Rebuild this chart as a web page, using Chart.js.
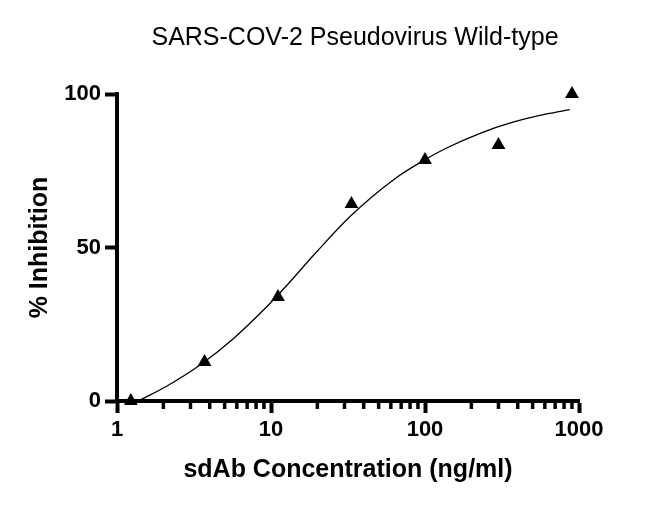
<!DOCTYPE html>
<html>
<head>
<meta charset="utf-8">
<script src="https://cdn.jsdelivr.net/npm/chart.js@4"></script>
<style>
  html, body { margin: 0; padding: 0; background: #fff; }
  #wrap { width: 650px; height: 507px; }
</style>
</head>
<body>
<div id="wrap"><canvas id="c" width="650" height="507"></canvas></div>
<script>
// ---- data ----
const concentration = [1.23, 3.7, 11.1, 33.3, 100, 300, 900];
const inhibition    = [0, 12.7, 33.9, 64.2, 78.5, 83.4, 100];

// fitted curve
const fitConcentration = [1.41, 2.1, 3.46, 5.69, 9.38, 11.97, 19.8, 32.6, 63.8, 100, 138, 228, 372, 617, 871];
const fitInhibition    = [0.3, 4.8, 11.7, 20.3, 30.7, 36.3, 48.6, 60.1, 72.4, 78.6, 82.4, 87.2, 90.8, 93.5, 94.9];

const xTickValues  = [1, 10, 100, 1000];
const xMinorTicks  = [2,3,4,5,6,7,8,9,20,30,40,50,60,70,80,90,200,300,400,500,600,700,800,900];
const yTickValues  = [0, 50, 100];

const titleText = 'SARS-COV-2 Pseudovirus Wild-type';
const xTitle = 'sdAb Concentration (ng/ml)';
const yTitle = '% Inhibition';

const FONT = "'Liberation Sans', Arial, Helvetica, sans-serif";

// title centred over the plot (as in the reference, offset from canvas centre)
const titlePlugin = {
  id: 'plotTitle',
  afterDraw(chart) {
    const ca = chart.chartArea;
    const ctx = chart.ctx;
    ctx.save();
    ctx.fillStyle = '#000';
    ctx.font = '25px ' + FONT;
    ctx.textAlign = 'center';
    ctx.textBaseline = 'middle';
    ctx.fillText(titleText, (ca.left + ca.right) / 2 + 7, ca.top - 56);
    ctx.restore();
  }
};

const minorTickPlugin = {
  id: 'minorTicks',
  afterDraw(chart) {
    const xs = chart.scales.x;
    const ys = chart.scales.y;
    const ctx = chart.ctx;
    const y0 = ys.getPixelForValue(0);
    ctx.save();
    ctx.strokeStyle = '#000';
    ctx.lineWidth = 3.5;
    ctx.lineCap = 'butt';
    xMinorTicks.forEach(v => {
      const px = xs.getPixelForValue(v);
      ctx.beginPath();
      ctx.moveTo(px, y0);
      ctx.lineTo(px, y0 + 8);
      ctx.stroke();
    });
    ctx.restore();
  }
};

const points = concentration.map((c, i) => ({ x: c, y: inhibition[i] }));
const fit = fitConcentration.map((c, i) => ({ x: c, y: fitInhibition[i] }));

new Chart(document.getElementById('c'), {
  type: 'scatter',
  data: {
    datasets: [
      {
        label: 'fit',
        data: fit,
        showLine: true,
        borderColor: '#000',
        borderWidth: 1.3,
        pointRadius: 0,
        cubicInterpolationMode: 'monotone',
        clip: false,
        order: 2
      },
      {
        label: 'data',
        data: points,
        pointStyle: 'triangle',
        pointRadius: 8,
        backgroundColor: '#000',
        borderColor: '#000',
        borderWidth: 0,
        clip: false,
        order: 1
      }
    ]
  },
  options: {
    responsive: false,
    animation: false,
    devicePixelRatio: 1,
    layout: { padding: { left: 21, right: 71, top: 94, bottom: 18 } },
    plugins: {
      legend: { display: false },
      tooltip: { enabled: false },
      title: { display: false }
    },
    scales: {
      x: {
        type: 'logarithmic',
        min: 1,
        max: 1000,
        afterBuildTicks(scale) {
          scale.ticks = xTickValues.map(v => ({ value: v, major: true }));
        },
        afterFit(scale) { scale.height = 88; },
        border: { display: true, color: '#000', width: 4 },
        grid: {
          display: true,
          drawOnChartArea: false,
          drawTicks: true,
          tickLength: 12,
          tickWidth: 4,
          tickColor: '#000',
          color: '#000'
        },
        ticks: {
          color: '#000',
          padding: 4,
          autoSkip: false,
          maxRotation: 0,
          font: { family: FONT, size: 22, weight: 'bold' },
          callback: (v) => String(v)
        },
        title: {
          display: true,
          text: xTitle,
          color: '#000',
          padding: { top: 4, bottom: 4 },
          font: { family: FONT, size: 25, weight: 'bold' }
        }
      },
      y: {
        min: 0,
        max: 100,
        afterBuildTicks(scale) {
          scale.ticks = yTickValues.map(v => ({ value: v }));
        },
        afterFit(scale) { scale.width = 96; },
        border: { display: true, color: '#000', width: 4 },
        grid: {
          display: true,
          drawOnChartArea: false,
          drawTicks: true,
          tickLength: 12,
          tickWidth: 4,
          tickColor: '#000',
          color: '#000'
        },
        ticks: {
          color: '#000',
          padding: 4,
          font: { family: FONT, size: 22, weight: 'bold' },
          callback: (v) => String(v)
        },
        title: {
          display: true,
          text: yTitle,
          color: '#000',
          padding: { top: 4, bottom: 4 },
          font: { family: FONT, size: 25, weight: 'bold' }
        }
      }
    }
  },
  plugins: [minorTickPlugin, titlePlugin]
});
</script>
</body>
</html>
